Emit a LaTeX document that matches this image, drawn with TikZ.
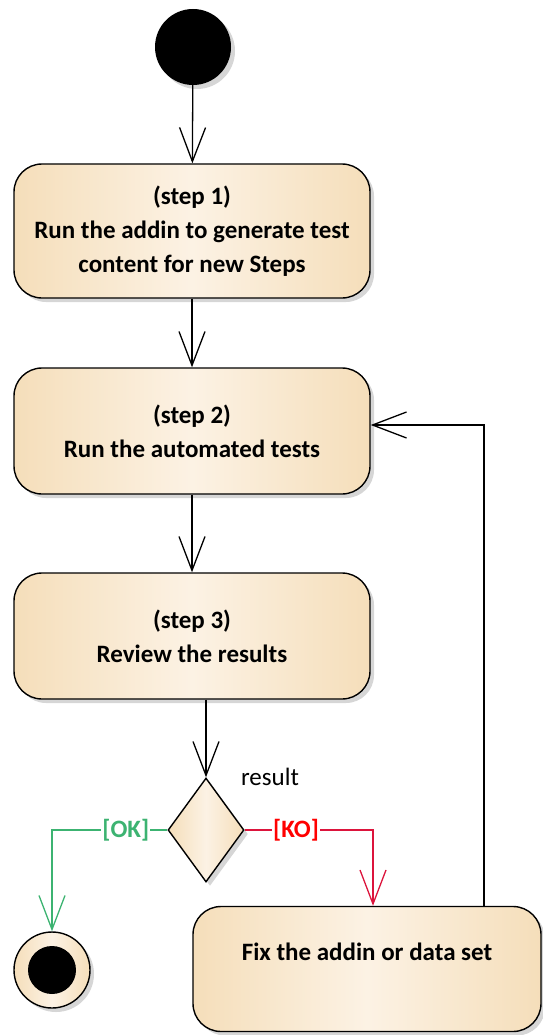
\documentclass[tikz,border=0pt]{standalone}
\usepackage{fontspec}
\setmainfont{Carlito}
\usetikzlibrary{arrows.meta}
\usetikzlibrary{shapes.geometric}
\usetikzlibrary{shadows}

\definecolor{actedge}{RGB}{245,222,186}
\definecolor{actmid}{RGB}{252,242,228}
\definecolor{okgreen}{RGB}{60,179,113}
\definecolor{kored}{RGB}{220,20,60}

\begin{document}
\begin{tikzpicture}[x=1pt,y=1pt]

\tikzstyle{shade}=[left color=actedge, right color=actedge, middle color=actmid]
\tikzstyle{shadow}=[drop shadow={fill=black!16, opacity=1, shadow xshift=4pt, shadow yshift=-4pt}]
\tikzstyle{act}=[draw=black, line width=1.4pt, rounded corners=28pt, shade, shadow,
minimum width=356pt, minimum height=126pt, align=center,
font=\bfseries\fontsize{25}{34}\selectfont]
\tikzstyle{flow}=[line width=1.3pt, -{Straight Barb[length=34pt,width=26pt]}]
\tikzstyle{guard}=[fill=white, inner sep=1pt, font=\bfseries\fontsize{25}{28}\selectfont]

\useasboundingbox (0,0) rectangle (542,-1035);

\node[circle, fill=black, minimum size=76pt, inner sep=0pt, shadow] (start) at (193,-47) {};
\node[act, minimum height=134pt] (step1) at (192,-231)
  {(step 1)\\Run the addin to generate test\\content for new Steps};
\node[act] (step2) at (192,-431) {(step 2)\\Run the automated tests};
\node[act] (step3) at (192,-636) {(step 3)\\Review the results};
\node[diamond, draw=black, line width=1.4pt, shade, shadow, inner sep=0pt,
  minimum width=76pt, minimum height=104pt] (decision) at (206,-830) {};
\node[font=\fontsize{25}{28}\selectfont] (result) at (270,-777) {result};
\node[circle, draw=black, line width=1.4pt, shade, shadow, minimum size=76pt,
  inner sep=0pt] (stop) at (52,-970) {};
\node[circle, fill=black, minimum size=48pt, inner sep=0pt] (stopdot) at (stop) {};
\node[act, minimum width=348pt, minimum height=125pt] (fix) at (367,-969)
  {Fix the addin or data set\\ \mbox{}};

\draw[flow] (start) -- (step1);
\draw[flow] (step1) -- (step2);
\draw[flow] (step2) -- (step3);
\draw[flow] (decision.north |- step3.south) -- (decision.north);
\draw[flow, draw=okgreen] (decision.west) -| node[guard, text=okgreen, pos=0.18] {[OK]} (stop.north);
\draw[flow, draw=kored] (decision.east) -| node[guard, text=red, pos=0.2] {[KO]} ([xshift=6pt]fix.north);
\draw[flow] ([xshift=117pt]fix.north) |- ([yshift=6pt]step2.east);

\end{tikzpicture}
\end{document}
